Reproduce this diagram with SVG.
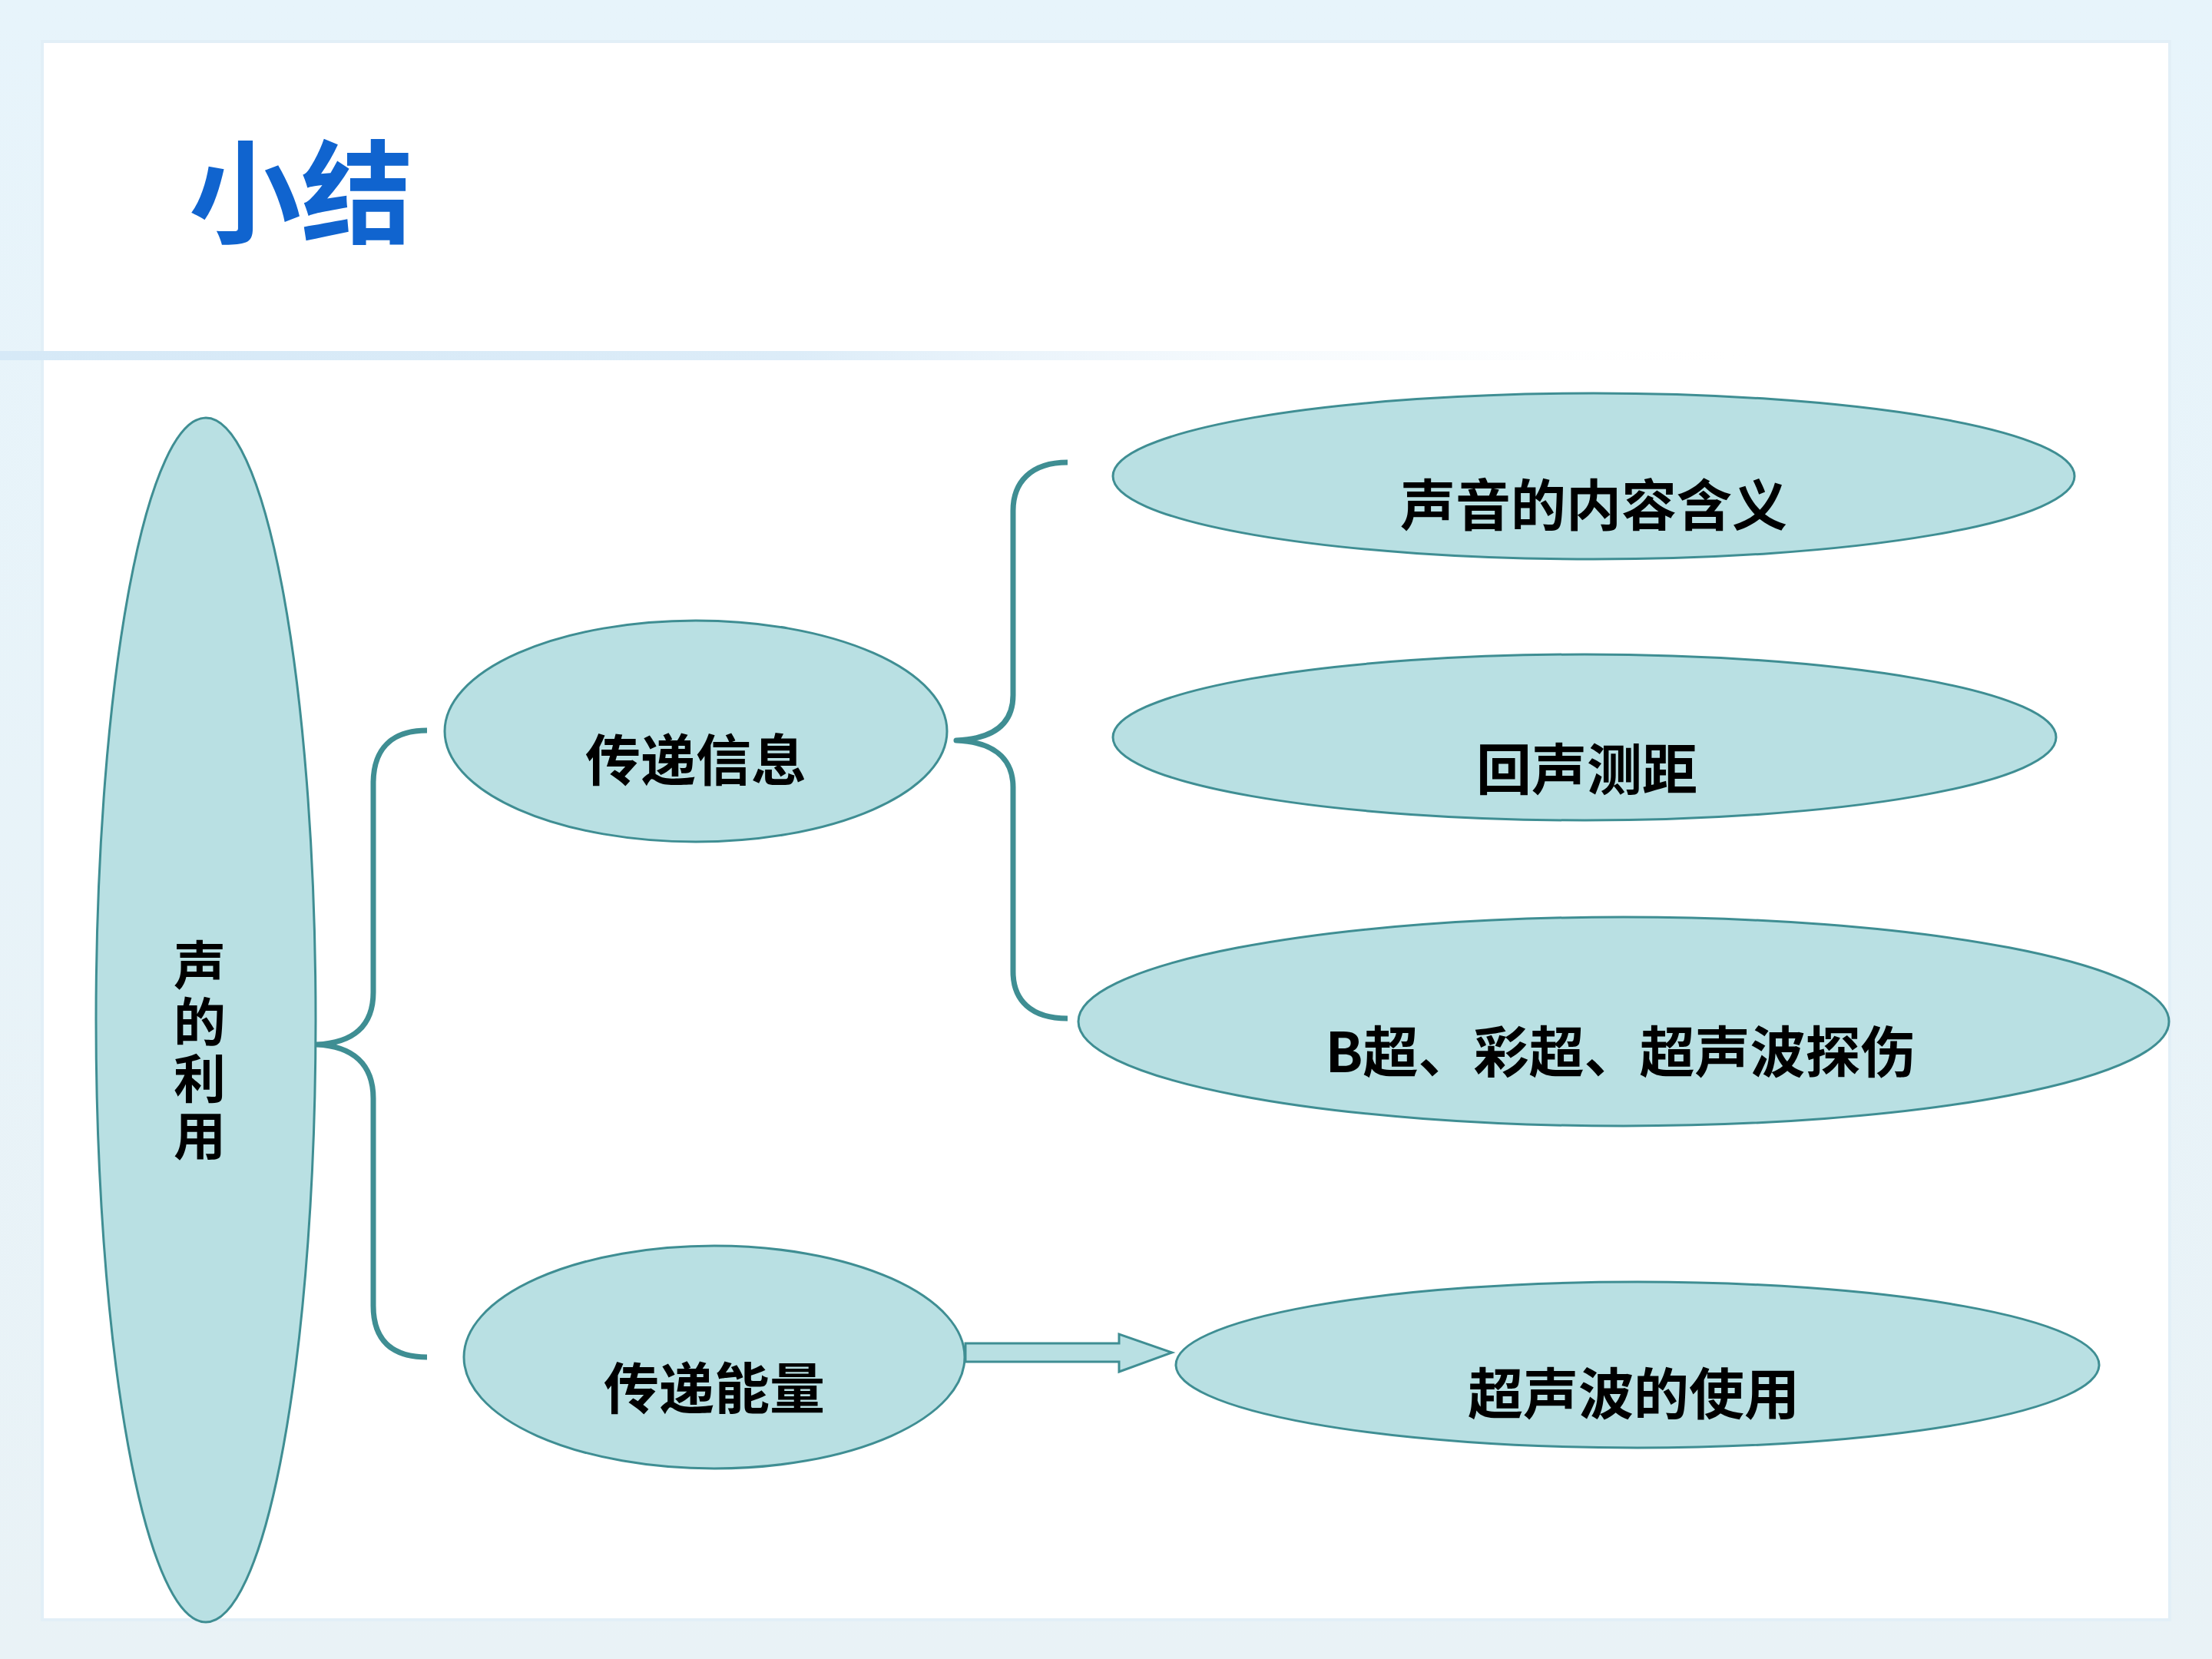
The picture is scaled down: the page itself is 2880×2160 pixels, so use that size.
<svg xmlns="http://www.w3.org/2000/svg" width="2880" height="2160" viewBox="0 0 2880 2160">
<style>
.node{fill:#b9e0e3;stroke:#3f8e93;stroke-width:3}
.lbl{font-family:"Noto Sans CJK SC","Noto Sans",sans-serif;font-weight:700;font-size:72px;fill:#000;text-anchor:middle;dominant-baseline:central}
.vlbl{font-family:"Noto Sans CJK SC","Noto Sans",sans-serif;font-weight:700;font-size:68px;fill:#000;writing-mode:vertical-rl;letter-spacing:6px}
.brace{fill:none;stroke:#3f8e93;stroke-width:7;stroke-linejoin:round}
.title{font-family:"Noto Sans CJK SC","Noto Sans",sans-serif;font-weight:700;font-size:146px;fill:#1064cf}
</style>
<defs>
<linearGradient id="sep" x1="0" y1="0" x2="1" y2="0">
<stop offset="0" stop-color="#d6e9f7"/>
<stop offset="0.45" stop-color="#dcecf8"/>
<stop offset="1" stop-color="#ffffff" stop-opacity="0"/>
</linearGradient>
<linearGradient id="bg" x1="0" y1="0" x2="0" y2="1">
<stop offset="0" stop-color="#e7f4fb"/>
<stop offset="1" stop-color="#e9f2f6"/>
</linearGradient>
</defs>
<rect x="0" y="0" width="2880" height="2160" fill="url(#bg)"/>
<rect x="55" y="54" width="2770" height="2055" fill="#ffffff" stroke="#e2eff7" stroke-width="4"/>
<rect x="0" y="457" width="2300" height="12" fill="url(#sep)"/>
<text id="title" class="title" x="246" y="305">小结</text>

<g id="connectors">
<path class="brace" d="M 556 951 C 510 951 486 975 486 1020 L 486 1292 C 486 1336 460 1358 412 1360 C 460 1362 486 1386 486 1430 L 486 1700 C 486 1745 510 1767 556 1767"/>
<path class="brace" d="M 1390 602 C 1342 602 1319 628 1319 665 L 1319 905 C 1319 944 1292 962 1245 964 C 1292 966 1319 986 1319 1025 L 1319 1265 C 1319 1302 1342 1326 1390 1326"/>
<polygon class="node" points="1257,1749 1457,1749 1457,1737 1526,1761 1457,1786 1457,1773 1257,1773"/>
</g>

<g id="n-root">
<ellipse class="node" cx="268" cy="1328" rx="143" ry="784"/>
<text class="vlbl" x="260" y="1222">声的利用</text>
</g>
<g id="n-info">
<ellipse class="node" cx="906" cy="952" rx="327" ry="144"/>
<text class="lbl" x="906" y="984">传递信息</text>
</g>
<g id="n-energy">
<ellipse class="node" cx="930" cy="1767" rx="326" ry="145"/>
<text class="lbl" x="930" y="1802">传递能量</text>
</g>
<g id="n-meaning">
<ellipse class="node" cx="2075" cy="620" rx="626" ry="108"/>
<text class="lbl" x="2075" y="652">声音的内容含义</text>
</g>
<g id="n-echo">
<ellipse class="node" cx="2063" cy="960" rx="614" ry="108"/>
<text class="lbl" x="2066" y="996">回声测距</text>
</g>
<g id="n-ultra">
<ellipse class="node" cx="2114" cy="1330" rx="710" ry="136"/>
<text class="lbl" x="2110" y="1364">B超、彩超、超声波探伤</text>
</g>
<g id="n-use">
<ellipse class="node" cx="2132" cy="1777" rx="601" ry="108"/>
<text class="lbl" x="2127" y="1809">超声波的使用</text>
</g>
</svg>
